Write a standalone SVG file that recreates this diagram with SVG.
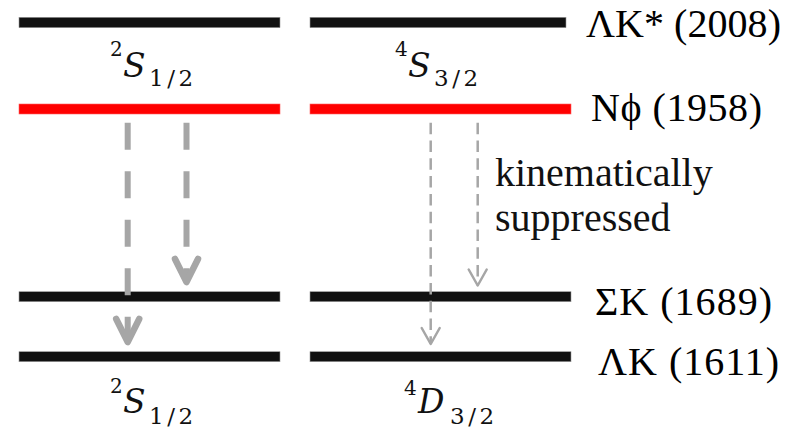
<svg xmlns="http://www.w3.org/2000/svg" width="798" height="430" viewBox="0 0 798 430">
  <style>
    .bar { fill: #111111; stroke: #9a9a9a; stroke-width: 0.6; }
    .bar-red { fill: #ff0000; stroke: #ff6060; stroke-width: 0.6; }
    .lbl { font-family: "Liberation Serif", "Times New Roman", serif; font-size: 40px; fill: #000; }
    .note { font-family: "Liberation Serif", "Times New Roman", serif; font-size: 40px; fill: #111; }
    .m { font-family: "DejaVu Serif", "Liberation Serif", serif; fill: #111; }
    .it { font-style: italic; }
    .big { font-size: 33px; }
    .sup { font-size: 20px; }
    .sub { font-size: 23px; letter-spacing: 3.5px; }
    .thick { fill: none; stroke: #a6a6a6; stroke-width: 6; stroke-dasharray: 27 21.5; }
    .thin { fill: none; stroke: #a6a6a6; stroke-width: 2.5; stroke-dasharray: 11.5 6.3; }
  </style>
  <defs>
    <marker id="headThick" markerUnits="userSpaceOnUse" orient="auto" refX="0" refY="0"
            markerWidth="40" markerHeight="40" overflow="visible">
      <path d="M -23,-11.5 L 0,0 L -23,11.5" fill="none" stroke="#a6a6a6" stroke-width="6.5"
            stroke-linecap="round" stroke-linejoin="round"/>
    </marker>
    <marker id="headThin" markerUnits="userSpaceOnUse" orient="auto" refX="0" refY="0"
            markerWidth="30" markerHeight="30" overflow="visible">
      <path d="M -16,-9 L 0,0 L -16,9" fill="none" stroke="#a6a6a6" stroke-width="2.5"
            stroke-linecap="round" stroke-linejoin="round"/>
    </marker>
  </defs>

  <rect width="798" height="430" fill="#ffffff"/>

  <!-- Energy levels, left column -->
  <g id="level-LKstar-left"><rect class="bar" x="19" y="17.3" width="261" height="10.4"/></g>
  <g id="level-Nphi-left"><rect class="bar-red" x="19" y="104" width="261" height="10"/></g>
  <g id="level-SK-left"><rect class="bar" x="19" y="291.7" width="261" height="10"/></g>
  <g id="level-LK-left"><rect class="bar" x="19" y="351.7" width="261" height="10"/></g>

  <!-- Energy levels, right column -->
  <g id="level-LKstar-right"><rect class="bar" x="310" y="17.3" width="256" height="10.4"/></g>
  <g id="level-Nphi-right"><rect class="bar-red" x="310" y="104" width="261" height="10"/></g>
  <g id="level-SK-right"><rect class="bar" x="310" y="291.7" width="261" height="10"/></g>
  <g id="level-LK-right"><rect class="bar" x="310" y="351.7" width="261" height="10"/></g>

  <!-- Channel names -->
  <g id="name-LKstar"><text class="lbl" x="586" y="37" textLength="195" lengthAdjust="spacing">ΛK* (2008)</text></g>
  <g id="name-Nphi"><text class="lbl" x="591" y="121" textLength="171" lengthAdjust="spacing">Nϕ (1958)</text></g>
  <g id="name-SK"><text class="lbl" x="595" y="315" textLength="177" lengthAdjust="spacing">ΣK (1689)</text></g>
  <g id="name-LK"><text class="lbl" x="598" y="375" textLength="181" lengthAdjust="spacing">ΛK (1611)</text></g>

  <!-- Partial-wave labels -->
  <g id="wave-top-left">
    <text class="m sup" x="110" y="56">2</text>
    <text class="m it big" x="123" y="77">S</text>
    <text class="m sub" x="149" y="86">1/2</text>
  </g>
  <g id="wave-top-right">
    <text class="m sup" x="395" y="56">4</text>
    <text class="m it big" x="408" y="77">S</text>
    <text class="m sub" x="434" y="86">3/2</text>
  </g>
  <g id="wave-bottom-left">
    <text class="m sup" x="110" y="393">2</text>
    <text class="m it big" x="123" y="413">S</text>
    <text class="m sub" x="149" y="424">1/2</text>
  </g>
  <g id="wave-bottom-right">
    <text class="m sup" x="404" y="395">4</text>
    <text class="m it big" x="418" y="413">D</text>
    <text class="m sub" x="450" y="424">3/2</text>
  </g>

  <!-- Annotation -->
  <g id="note-suppressed">
    <text class="note" x="495" y="186">kinematically</text>
    <text class="note" x="495" y="231">suppressed</text>
  </g>

  <!-- Decay connectors -->
  <g id="connectors">
    <path class="thick" d="M 127.7,122.7 L 127.7,342" marker-end="url(#headThick)"/>
    <path class="thick" d="M 186.5,122.7 L 186.5,282" marker-end="url(#headThick)"/>
    <path class="thin" d="M 430.7,122.7 L 430.7,344" marker-end="url(#headThin)"/>
    <path class="thin" d="M 477.7,122.7 L 477.7,285.5" marker-end="url(#headThin)"/>
  </g>
</svg>
